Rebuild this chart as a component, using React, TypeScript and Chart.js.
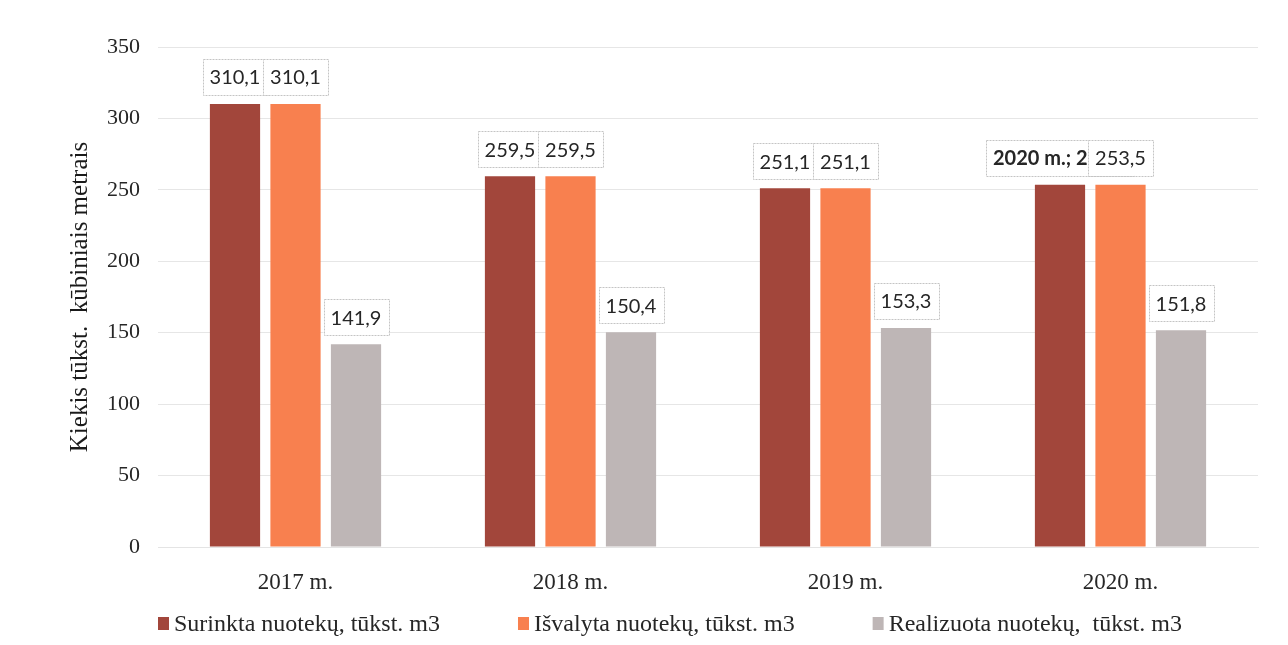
import React, { useEffect, useRef } from "react";
import { Chart, registerables } from "chart.js";

Chart.register(...registerables);

const categories = ["2017 m.", "2018 m.", "2019 m.", "2020 m."];
const surinkta = [310.1, 259.5, 251.1, 253.5];
const isvalyta = [310.1, 259.5, 251.1, 253.5];
const realizuota = [141.9, 150.4, 153.3, 151.8];
const seriesNames = [
  "Surinkta nuotekų, tūkst. m3",
  "Išvalyta nuotekų, tūkst. m3",
  "Realizuota nuotekų,  tūkst. m3",
];
const seriesColors = ["#A2463B", "#F8804F", "#BEB6B6"];
const surinktaCustomLabels = [null, null, null, "2020 m.; 253,5"];
const yMin = 0;
const yMax = 350;
const yStep = 50;
const yTitle = "Kiekis tūkst.  kūbiniais metrais";

const SERIF = "'Liberation Serif', 'Times New Roman', serif";
const LABEL_FONT = "Lato, 'Noto Sans', sans-serif";

const fmt = (v: number) => v.toFixed(1).replace(".", ",");

const boxLabels = {
  id: "boxLabels",
  afterDatasetsDraw(chart: any) {
    const ctx = chart.ctx;
    ctx.save();
    chart.data.datasets.forEach((ds: any, di: number) => {
      const meta = chart.getDatasetMeta(di);
      meta.data.forEach((bar: any, i: number) => {
        const v = ds.data[i] as number;
        const custom = ds.customLabels ? ds.customLabels[i] : null;
        const text = custom ?? fmt(v);
        ctx.font = (custom ? "bold " : "") + "20px " + LABEL_FONT;
        const w = ctx.measureText(text).width + 14;
        const h = 36;
        const cx = bar.x;
        const cy = bar.y - 27;
        ctx.fillStyle = "#ffffff";
        ctx.fillRect(cx - w / 2, cy - h / 2, w, h);
        ctx.strokeStyle = "#c4c4c4";
        ctx.lineWidth = 1;
        ctx.setLineDash([2, 1]);
        ctx.strokeRect(Math.round(cx - w / 2) + 0.5, Math.round(cy - h / 2) + 0.5, Math.round(w), h);
        ctx.setLineDash([]);
        ctx.fillStyle = "#262626";
        ctx.textAlign = "center";
        ctx.textBaseline = "middle";
        ctx.fillText(text, cx, cy + 1);
      });
    });
    ctx.restore();
  },
};

const customLegend = {
  id: "customLegend",
  afterDraw(chart: any) {
    const ctx = chart.ctx;
    ctx.save();
    const y = chart.height - 21;
    let x = chart.chartArea.left;
    ctx.font = "24px " + SERIF;
    ctx.textBaseline = "middle";
    ctx.textAlign = "left";
    chart.data.datasets.forEach((ds: any) => {
      ctx.fillStyle = ds.backgroundColor;
      ctx.fillRect(x, y - 7, 11, 13);
      ctx.fillStyle = "#262626";
      ctx.fillText(ds.label, x + 16, y + 1);
      x += 16 + ctx.measureText(ds.label).width + 78;
    });
    ctx.restore();
  },
};

export default function App() {
  const ref = useRef<HTMLCanvasElement | null>(null);
  useEffect(() => {
    if (!ref.current) return;
    const chart = new Chart(ref.current, {
      type: "bar",
      data: {
        labels: categories,
        datasets: [
          { label: seriesNames[0], data: surinkta, backgroundColor: seriesColors[0], customLabels: surinktaCustomLabels } as any,
          { label: seriesNames[1], data: isvalyta, backgroundColor: seriesColors[1] },
          { label: seriesNames[2], data: realizuota, backgroundColor: seriesColors[2] },
        ],
      },
      options: {
        animation: false,
        responsive: true,
        maintainAspectRatio: false,
        datasets: { bar: { categoryPercentage: 0.66, barPercentage: 0.83 } },
        layout: { padding: { left: 8, right: 30, top: 47, bottom: 48 } },
        plugins: { legend: { display: false }, tooltip: { enabled: false } },
        scales: {
          x: {
            grid: { display: false },
            border: { display: true, color: "#e4e4e4" },
            ticks: { font: { family: SERIF, size: 23 }, color: "#262626", padding: 14 },
            afterFit: (s: any) => { s.height = 50; },
          },
          y: {
            min: yMin,
            max: yMax,
            ticks: { stepSize: yStep, font: { family: SERIF, size: 22 }, color: "#262626", padding: 18 },
            grid: { color: "#e6e6e6", drawTicks: false },
            border: { display: false },
            title: {
              display: true,
              text: yTitle,
              font: { family: SERIF, size: 25 },
              color: "#1a1a1a",
              padding: { top: 57, bottom: 0 },
            },
            afterFit: (s: any) => { s.width = 150; },
          },
        },
      } as any,
      plugins: [boxLabels, customLegend],
    });
    return () => chart.destroy();
  }, []);
  return (
    <div style={{ position: "absolute", left: 0, top: 0, width: 1288, height: 645, background: "#fff" }}>
      <canvas ref={ref} />
    </div>
  );
}
